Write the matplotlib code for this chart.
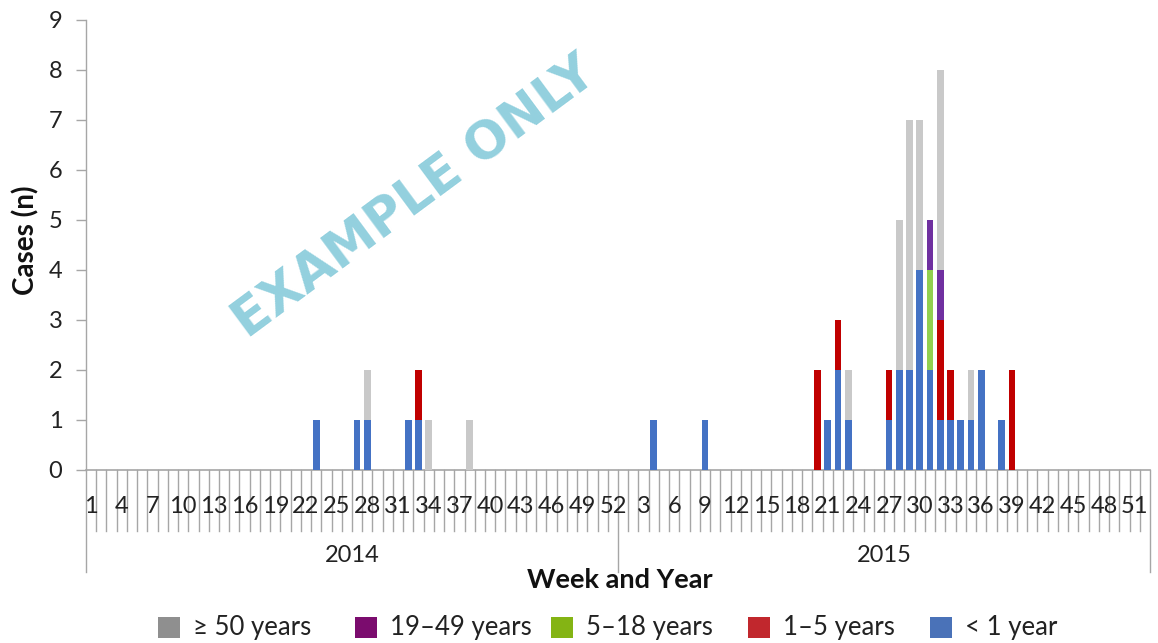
import matplotlib
matplotlib.use("Agg")
import matplotlib.pyplot as plt
from matplotlib.patches import Rectangle
from matplotlib.transforms import blended_transform_factory

plt.rcParams['font.family'] = ['Lato', 'DejaVu Sans']

# ---- data ----
years = ["2014", "2015"]
weeks_per_year = 52
case_weeks = [("2014", 23), ("2014", 27), ("2014", 28), ("2014", 32), ("2014", 33), ("2014", 34), ("2014", 38),
              ("2015", 4), ("2015", 9), ("2015", 20), ("2015", 21), ("2015", 22), ("2015", 23), ("2015", 27),
              ("2015", 28), ("2015", 29), ("2015", 30), ("2015", 31), ("2015", 32), ("2015", 33), ("2015", 34),
              ("2015", 35), ("2015", 36), ("2015", 38), ("2015", 39)]
lt1   = [1, 1, 1, 1, 1, 0, 0,  1, 1, 0, 1, 2, 1, 1, 2, 2, 4, 2, 1, 1, 1, 1, 2, 1, 0]
y1_5  = [0, 0, 0, 0, 1, 0, 0,  0, 0, 2, 0, 1, 0, 1, 0, 0, 0, 0, 2, 1, 0, 0, 0, 0, 2]
y5_18 = [0, 0, 0, 0, 0, 0, 0,  0, 0, 0, 0, 0, 0, 0, 0, 0, 0, 2, 0, 0, 0, 0, 0, 0, 0]
y19_49= [0, 0, 0, 0, 0, 0, 0,  0, 0, 0, 0, 0, 0, 0, 0, 0, 0, 1, 1, 0, 0, 0, 0, 0, 0]
ge50  = [0, 0, 1, 0, 0, 1, 1,  0, 0, 0, 0, 0, 1, 0, 3, 5, 3, 0, 4, 0, 0, 1, 0, 0, 0]

series = [("< 1 year", lt1), ("1\u20135 years", y1_5), ("5\u201318 years", y5_18),
          ("19\u201349 years", y19_49), ("\u2265 50 years", ge50)]
bar_colors = ["#4472c4", "#c00000", "#92d050", "#7030a0", "#c9c9c9"]
legend_colors = ["#4a72b8", "#c1272d", "#84b414", "#7b0c6e", "#8f8f8f"]

# ---- figure ----
W, H = 1158, 643
fig = plt.figure(figsize=(W / 100, H / 100), dpi=100)
ax = fig.add_axes([86 / W, 1 - 469.5 / H, (1150 - 86) / W, (469.5 - 20) / H])

ncat = weeks_per_year * len(years)
xpos = [years.index(y) * weeks_per_year + (w - 1) for (y, w) in case_weeks]
bottom = [0] * len(xpos)
for (name, vals), c in zip(series, bar_colors):
    ax.bar(xpos, vals, width=0.65, bottom=bottom, color=c, zorder=3)
    bottom = [b + v for b, v in zip(bottom, vals)]

ax.set_xlim(-0.5, ncat - 0.5)
ax.set_ylim(0, 9)
ax.set_yticks(range(0, 10))
ax.tick_params(axis='y', length=7, width=1, color='#a6a6a6', labelsize=17, pad=10, labelcolor='#222222')
for s in ['top', 'right']:
    ax.spines[s].set_visible(False)
ax.spines['left'].set_color('#a6a6a6')
ax.spines['bottom'].set_color('#a6a6a6')
ax.spines['left'].set_linewidth(1)
ax.spines['bottom'].set_linewidth(1.2)

# x tick labels every 3rd week
labels_all = [str(w) for y in years for w in range(1, weeks_per_year + 1)]
tick_idx = list(range(0, ncat, 3))
ax.set_xticks(tick_idx)
ax.set_xticklabels([labels_all[i] for i in tick_idx], fontsize=17, color='#222222')
ax.tick_params(axis='x', length=0, pad=19)

trans = blended_transform_factory(ax.transData, ax.transAxes)
ax_h = 469.5 - 20
for b in range(0, ncat + 1):
    x = b - 0.5
    if b % weeks_per_year == 0:
        ax.plot([x, x], [0, -(572 - 469.5) / ax_h], transform=trans, color='#a6a6a6', lw=1, clip_on=False, zorder=1)
    else:
        ax.plot([x, x], [0, -(531 - 469.5) / ax_h], transform=trans, color='#a6a6a6', lw=1, clip_on=False, zorder=1)

for i, y in enumerate(years):
    ax.text(i * weeks_per_year + weeks_per_year / 2 - 0.5, -(556 - 469.5) / ax_h, y, transform=trans,
            ha='center', va='center', fontsize=17, color='#222222')

fig.text(620 / W, 1 - 580 / H, "Week and Year", ha='center', va='center', fontsize=19.5, fontweight='bold', color='#111111')
fig.text(26 / W, 1 - 240 / H, "Cases (n)", ha='center', va='center', rotation=90, fontsize=20, fontweight='bold', color='#111111')

# watermark
fig.text(415 / W, 1 - 198 / H, "EXAMPLE ONLY", ha='center', va='center', rotation=36.5, fontsize=37,
         fontweight='bold', family=['DejaVu Sans'], color='#93d0de', zorder=10)

# legend (reversed order)
leg_x = [158, 355, 551, 748, 930]
for k, ((name, _), c) in enumerate(zip(series[::-1], legend_colors[::-1])):
    x0 = leg_x[k]
    fig.patches.append(Rectangle((x0 / W, 1 - 638 / H), 22 / W, 21 / H, transform=fig.transFigure,
                                 facecolor=c, edgecolor='none'))
    fig.text((x0 + 35) / W, 1 - 628 / H, name, ha='left', va='center', fontsize=18.5, color='#222222')

fig.savefig("out.png", dpi=100)
